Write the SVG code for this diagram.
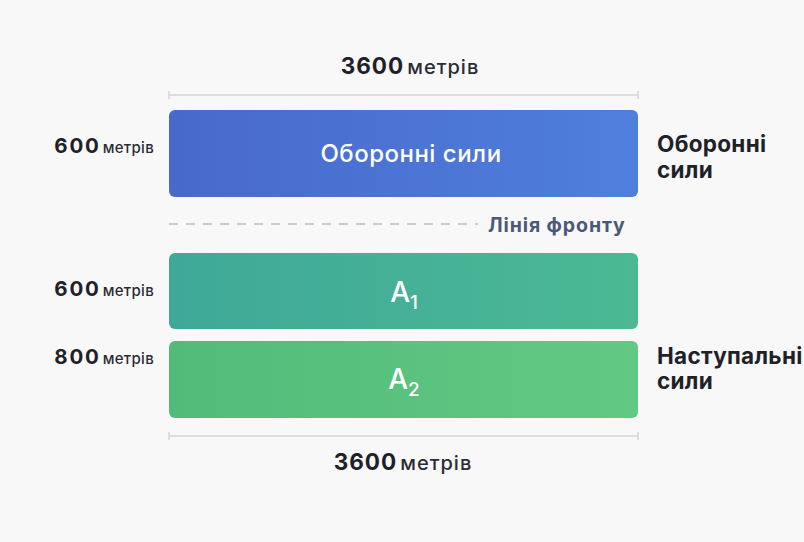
<svg xmlns="http://www.w3.org/2000/svg" width="804" height="542" viewBox="0 0 804 542">
  <style>
    text { font-family: Inter, "Noto Sans", "Liberation Sans", sans-serif; }
    .num { font-weight: 700; fill: #1f2128; }
    .unit { font-weight: 500; fill: #2a2c33; }
    .side { font-size: 22.5px; font-weight: 700; fill: #1f2128; letter-spacing: 0.3px; }
    .inner { fill: #ffffff; font-weight: 500; text-anchor: middle; }
    .dim { stroke: #d3d5da; stroke-width: 1.5; fill: none; }
  </style>
  <defs>
    <linearGradient id="gBlue" x1="0" y1="0" x2="1" y2="0">
      <stop offset="0" stop-color="#4869cc"/>
      <stop offset="1" stop-color="#4f7fdd"/>
    </linearGradient>
    <linearGradient id="gTeal" x1="0" y1="0" x2="1" y2="0">
      <stop offset="0" stop-color="#3fa898"/>
      <stop offset="1" stop-color="#4cb994"/>
    </linearGradient>
    <linearGradient id="gGreen" x1="0" y1="0" x2="1" y2="0">
      <stop offset="0" stop-color="#52bb7a"/>
      <stop offset="1" stop-color="#62c983"/>
    </linearGradient>
  </defs>
  <rect width="804" height="542" fill="#f8f8f9"/>

  <!-- dimension lines and front line -->
  <g id="connectors">
    <path class="dim" d="M169 95 H638 M169 91 V99 M638 91 V99"/>
    <path class="dim" d="M169 436 H638 M169 432 V440 M638 432 V440"/>
    <line x1="169" y1="224" x2="478" y2="224" stroke="#c9cbd0" stroke-width="2" stroke-dasharray="9 8"/>
  </g>

  <g id="top-width">
    <text x="410" y="74" text-anchor="middle"><tspan class="num" font-size="22.5" letter-spacing="1">3600</tspan><tspan class="unit" font-size="20" letter-spacing="1" dx="3">метрів</tspan></text>
  </g>
  <g id="bottom-width">
    <text x="403" y="470" text-anchor="middle"><tspan class="num" font-size="22.5" letter-spacing="1">3600</tspan><tspan class="unit" font-size="20" letter-spacing="1" dx="3">метрів</tspan></text>
  </g>

  <g id="defence">
    <rect x="169" y="110" width="469" height="87" rx="6" fill="url(#gBlue)"/>
    <text class="inner" x="411" y="162" font-size="24" letter-spacing="0.5">Оборонні сили</text>
    <text x="154" y="153" text-anchor="end"><tspan class="num" font-size="20.5" letter-spacing="1.8">600</tspan><tspan class="unit" font-size="15" letter-spacing="0.3" dx="2">метрів</tspan></text>
    <text class="side" x="657" y="152">Оборонні</text>
    <text class="side" x="657" y="178">сили</text>
  </g>

  <g id="front-line">
    <text x="488" y="232" font-size="19.5" font-weight="700" fill="#4b5878" letter-spacing="0.9">Лінія фронту</text>
  </g>

  <g id="a1">
    <rect x="169" y="253" width="469" height="76" rx="6" fill="url(#gTeal)"/>
    <text class="inner" x="404" y="302" font-size="28">A<tspan font-size="19" dy="7">1</tspan></text>
    <text x="154" y="296" text-anchor="end"><tspan class="num" font-size="20.5" letter-spacing="1.8">600</tspan><tspan class="unit" font-size="15" letter-spacing="0.3" dx="2">метрів</tspan></text>
  </g>

  <g id="a2">
    <rect x="169" y="341" width="469" height="77" rx="6" fill="url(#gGreen)"/>
    <text class="inner" x="404" y="389" font-size="28">A<tspan font-size="19" dy="7">2</tspan></text>
    <text x="154" y="364" text-anchor="end"><tspan class="num" font-size="20.5" letter-spacing="1.8">800</tspan><tspan class="unit" font-size="15" letter-spacing="0.3" dx="2">метрів</tspan></text>
    <text class="side" x="657" y="364">Наступальні</text>
    <text class="side" x="657" y="389">сили</text>
  </g>
</svg>
